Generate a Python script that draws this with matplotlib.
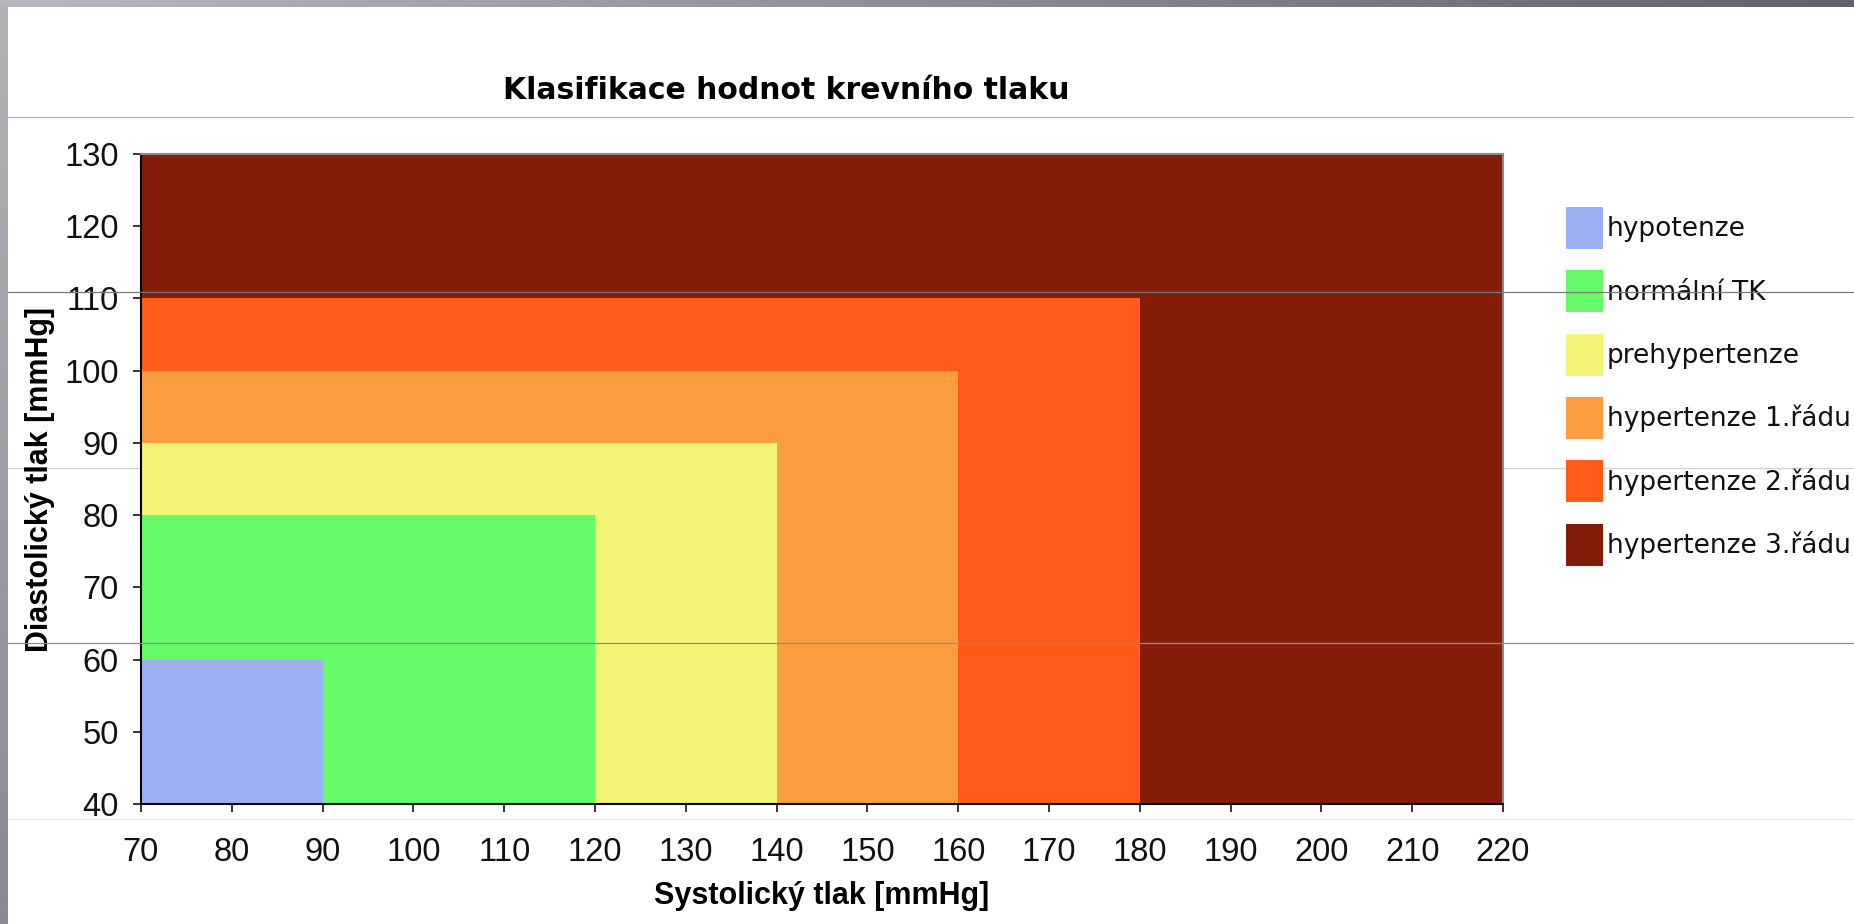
import numpy as np
import matplotlib
matplotlib.use("Agg")
import matplotlib.pyplot as plt
from matplotlib.lines import Line2D

# ---- data ----
categories = ["hypotenze", "normální TK", "prehypertenze",
              "hypertenze 1.řádu", "hypertenze 2.řádu", "hypertenze 3.řádu"]
systolic_max = [90, 120, 140, 160, 180, 220]
diastolic_max = [60, 80, 90, 100, 110, 130]
systolic_min = 70
diastolic_min = 40
colors = ["#9DB0F3", "#66FA68", "#F3F576", "#FC9D40", "#FF5A17", "#841C0A"]
x_ticks = list(range(70, 221, 10))
y_ticks = list(range(40, 131, 10))

title = "Klasifikace hodnot krevního tlaku"
xlabel = "Systolický tlak [mmHg]"
ylabel = "Diastolický tlak [mmHg]"

W, H = 1854, 924
fig = plt.figure(figsize=(W / 100, H / 100), dpi=100)
fig.patch.set_facecolor("white")

# ---- background frame (slide border) ----
bg = fig.add_axes([0, 0, 1, 1], zorder=-10)
img = np.ones((H, W, 3))
top_l = np.array([186, 184, 191]) / 255
top_r = np.array([100, 97, 105]) / 255
t = np.linspace(0, 1, W)[:, None]
img[:7, :, :] = (top_l * (1 - t) + top_r * t)[None, :, :]
left_t = np.array([180, 178, 185]) / 255
left_b = np.array([138, 136, 144]) / 255
s = np.linspace(0, 1, H - 7)[:, None]
img[7:, :8, :] = (left_t * (1 - s) + left_b * s)[:, None, :]
bg.imshow(img, aspect="auto", extent=(0, 1, 0, 1), interpolation="bilinear")
bg.set_axis_off()

# thin horizontal lines (behind and in front)
for ypx, col, z in [(117, "#b4b4b4", -5), (468, "#d0d0d0", -5), (819, "#ececec", -5),
                    (292, "#7a7a7a", 5), (643, "#8c8c8c", 5)]:
    yf = 1 - ypx / H
    fig.add_artist(Line2D([8 / W, 1], [yf, yf], transform=fig.transFigure,
                          color=col, lw=0.9, zorder=z))

# ---- main axes ----
L, R, T, B = 141, 1503, 154, 804
ax = fig.add_axes([L / W, 1 - B / H, (R - L) / W, (B - T) / H], zorder=0)

narrow = ["Liberation Sans Narrow", "Liberation Sans", "DejaVu Sans"]

handles = {}
order = list(range(len(categories)))[::-1]
for i in order:
    b = ax.bar(systolic_min, diastolic_max[i] - diastolic_min,
               width=systolic_max[i] - systolic_min, bottom=diastolic_min,
               align="edge", color=colors[i], edgecolor="none", linewidth=0,
               label=categories[i])
    handles[i] = b

ax.set_xlim(70, 220)
ax.set_ylim(40, 130)
ax.set_xticks(x_ticks)
ax.set_yticks(y_ticks)
ax.set_xticklabels([str(v) for v in x_ticks], fontfamily=narrow, fontsize=23.5, color="#111111")
ax.set_yticklabels([str(v) for v in y_ticks], fontfamily=narrow, fontsize=23.5, color="#111111")
ax.tick_params(axis="x", direction="out", length=6, width=1.1, pad=18, color="black")
ax.tick_params(axis="y", direction="out", length=6, width=1.1, pad=10, color="black")

for side in ["left", "bottom"]:
    ax.spines[side].set_color("black")
    ax.spines[side].set_linewidth(1.5)
for side in ["top", "right"]:
    ax.spines[side].set_color("#8a8a8a")
    ax.spines[side].set_linewidth(1.5)

ax.set_xlabel(xlabel, fontfamily=narrow, fontweight="bold", fontsize=22, va="center")
ax.xaxis.set_label_coords(0.5, (28 - (H - B)) / (B - T))
ax.set_ylabel(ylabel, fontfamily=narrow, fontweight="bold", fontsize=22, va="center",
              rotation=90)
ax.yaxis.set_label_coords((40 - L) / (R - L), 0.5)

fig.text(786 / W, 1 - 99 / H, title, ha="center", va="baseline",
         fontfamily="DejaVu Sans", fontweight="bold", fontsize=21.5, color="black")

leg = ax.legend([handles[i] for i in range(len(categories))], categories,
                loc="upper left", bbox_to_anchor=(1566 / W, 1 - 207 / H),
                bbox_transform=fig.transFigure, frameon=False,
                prop={"family": "DejaVu Sans", "size": 19},
                handlelength=1.4, handleheight=2.07, handletextpad=0.15,
                labelspacing=0.81, borderpad=0, borderaxespad=0)
for txt in leg.get_texts():
    txt.set_color("#111111")

fig.savefig("out.png", dpi=100, facecolor="white")
